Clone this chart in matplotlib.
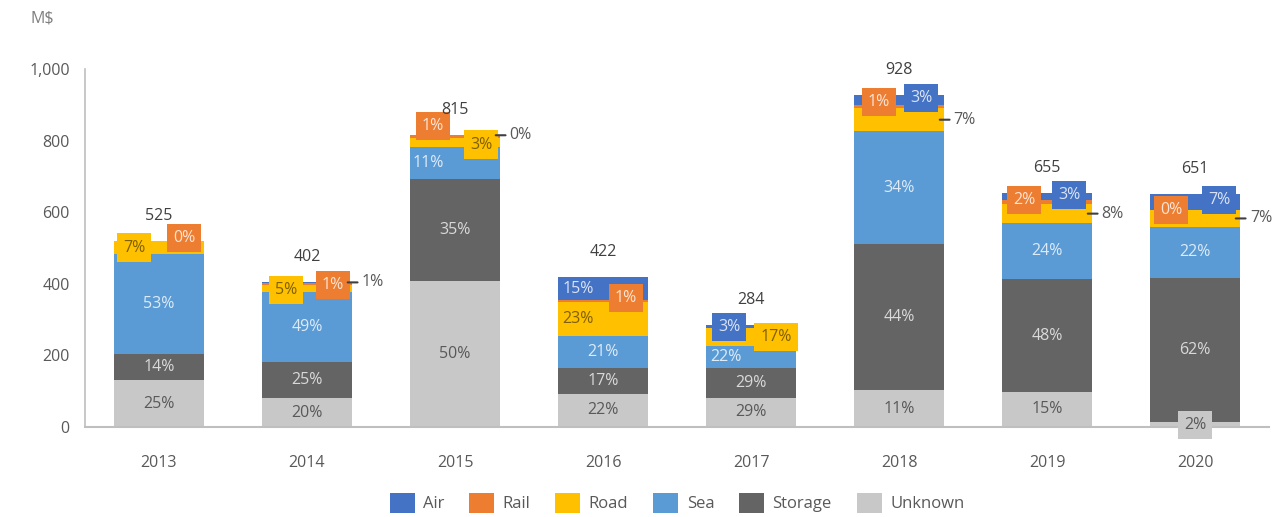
import numpy as np
import matplotlib.pyplot as plt
from matplotlib.ticker import FuncFormatter

plt.rcParams['font.family'] = ['Open Sans', 'DejaVu Sans']

# Date (M$ si pondere in %, stivuite de jos in sus)
ani = ['2013', '2014', '2015', '2016', '2017', '2018', '2019', '2020']
totaluri = [525, 402, 815, 422, 284, 928, 655, 651]
unknown = [25, 20, 50, 22, 29, 11, 15, 2]
storage = [14, 25, 35, 17, 29, 44, 48, 62]
sea = [53, 49, 11, 21, 22, 34, 24, 22]
road = [7, 5, 3, 23, 17, 7, 8, 7]
rail = [0, 1, 1, 1, 0, 1, 2, 0]
air = [0, 1, 0, 15, 3, 3, 3, 7]

serii = ['Unknown', 'Storage', 'Sea', 'Road', 'Rail', 'Air']
ponderi = {'Unknown': unknown, 'Storage': storage, 'Sea': sea,
           'Road': road, 'Rail': rail, 'Air': air}
culori = {'Air': '#4472C4', 'Rail': '#ED7D31', 'Road': '#FFC000',
          'Sea': '#5B9BD5', 'Storage': '#646464', 'Unknown': '#C8C8C8'}
culori_text = {'Air': '#DAE3F3', 'Rail': '#FBE5D6', 'Road': '#7F6000',
               'Sea': '#DDEBF7', 'Storage': '#D9D9D9', 'Unknown': '#595959'}

# plasarea etichetelor mici: (dx px, dy px, stil)
plasare = {
    ('Air', 0): (0, 0, 'skip'), ('Rail', 4): (0, 0, 'skip'),
    ('Road', 0): (-25, 0, 'box'), ('Rail', 0): (25, 3, 'box'),
    ('Road', 1): (-21, -2, 'box'), ('Rail', 1): (26, -1, 'box'), ('Air', 1): (0, 0, 'call'),
    ('Sea', 2): (-27, 0, 'in'), ('Rail', 2): (-22, 11, 'box'), ('Road', 2): (26, -2, 'box'),
    ('Air', 2): (0, 0, 'call'),
    ('Air', 3): (-25, 0, 'in'), ('Rail', 3): (23, 3, 'box'), ('Road', 3): (-25, 0, 'in'),
    ('Air', 4): (-22, 0, 'box'), ('Road', 4): (25, 0, 'box'), ('Sea', 4): (-25, 0, 'in'),
    ('Rail', 5): (-20, 4, 'box'), ('Air', 5): (22, 2, 'box'), ('Road', 5): (0, 0, 'call'),
    ('Rail', 6): (-23, 2, 'box'), ('Air', 6): (22, 1, 'box'), ('Road', 6): (0, 0, 'call'),
    ('Rail', 7): (-24, 0, 'box'), ('Air', 7): (24, 2, 'box'), ('Road', 7): (0, 0, 'call'),
    ('Unknown', 7): (0, 0, 'box'),
}

fig = plt.figure(figsize=(12.78, 5.17), dpi=100)
ax = fig.add_axes([0.0665, 0.174, 0.9265, 0.6925])

x = np.arange(len(ani))
latime = 0.61
baza = np.zeros(len(ani))
bare = {}
for s in serii:
    val = np.array(ponderi[s]) / 100 * np.array(totaluri)
    bare[s] = ax.bar(x, val, latime, bottom=baza, color=culori[s], label=s)
    for i in range(len(ani)):
        dx, dy, stil = plasare.get((s, i), (0, 0, 'in'))
        if stil == 'skip':
            continue
        yc = baza[i] + val[i] / 2
        txt = f'{ponderi[s][i]}%'
        if stil == 'in':
            ax.annotate(txt, (x[i], yc), xytext=(dx, dy), textcoords='offset pixels',
                        ha='center', va='center', fontsize=11.5, color=culori_text[s])
        elif stil == 'box':
            ax.annotate(txt, (x[i], yc), xytext=(dx, dy), textcoords='offset pixels',
                        ha='center', va='center', fontsize=11.5, color=culori_text[s],
                        annotation_clip=False,
                        bbox=dict(boxstyle='square,pad=0.38', fc=culori[s], ec='none'))
        else:
            ax.annotate(txt, (x[i] + latime / 2 - 0.03, yc), xytext=(14, 0),
                        textcoords='offset pixels', ha='left', va='center',
                        fontsize=11.5, color='#595959', annotation_clip=False,
                        arrowprops=dict(arrowstyle='-', color='#404040', lw=1.5,
                                        shrinkA=1, shrinkB=0))
    baza += val

for i, t in enumerate(totaluri):
    ax.annotate(str(t), (x[i], baza[i]), xytext=(0, 25), textcoords='offset pixels',
                ha='center', va='center', fontsize=11.5, color='#404040',
                annotation_clip=False)

ax.set_xlim(-0.5, len(ani) - 0.5)
ax.set_ylim(0, 1000)
ax.set_yticks(range(0, 1001, 200))
ax.yaxis.set_major_formatter(FuncFormatter(lambda v, p: f'{int(v):,}'))
ax.set_xticks(x)
ax.set_xticklabels(ani)
ax.tick_params(axis='y', length=0, pad=11, labelsize=11.5, labelcolor='#595959')
ax.tick_params(axis='x', length=0, pad=20, labelsize=11.5, labelcolor='#595959')
for sp in ['top', 'right']:
    ax.spines[sp].set_visible(False)
ax.spines['left'].set_color('#BFBFBF')
ax.spines['bottom'].set_color('#BFBFBF')
ax.spines['left'].set_linewidth(1.2)
ax.spines['bottom'].set_linewidth(1.5)

ordine = ['Air', 'Rail', 'Road', 'Sea', 'Storage', 'Unknown']
ax.legend([bare[s] for s in ordine], ordine, loc='center', bbox_to_anchor=(0.5, -0.212),
          ncol=6, frameon=False, fontsize=12, labelcolor='#595959',
          handlelength=1.5, handleheight=1.5, handletextpad=0.5, columnspacing=1.5)

fig.text(30 / 1278, 1 - 18 / 517, 'M$', fontsize=11.5, color='#7F7F7F', va='center')

fig.savefig('out.png', dpi=100)
